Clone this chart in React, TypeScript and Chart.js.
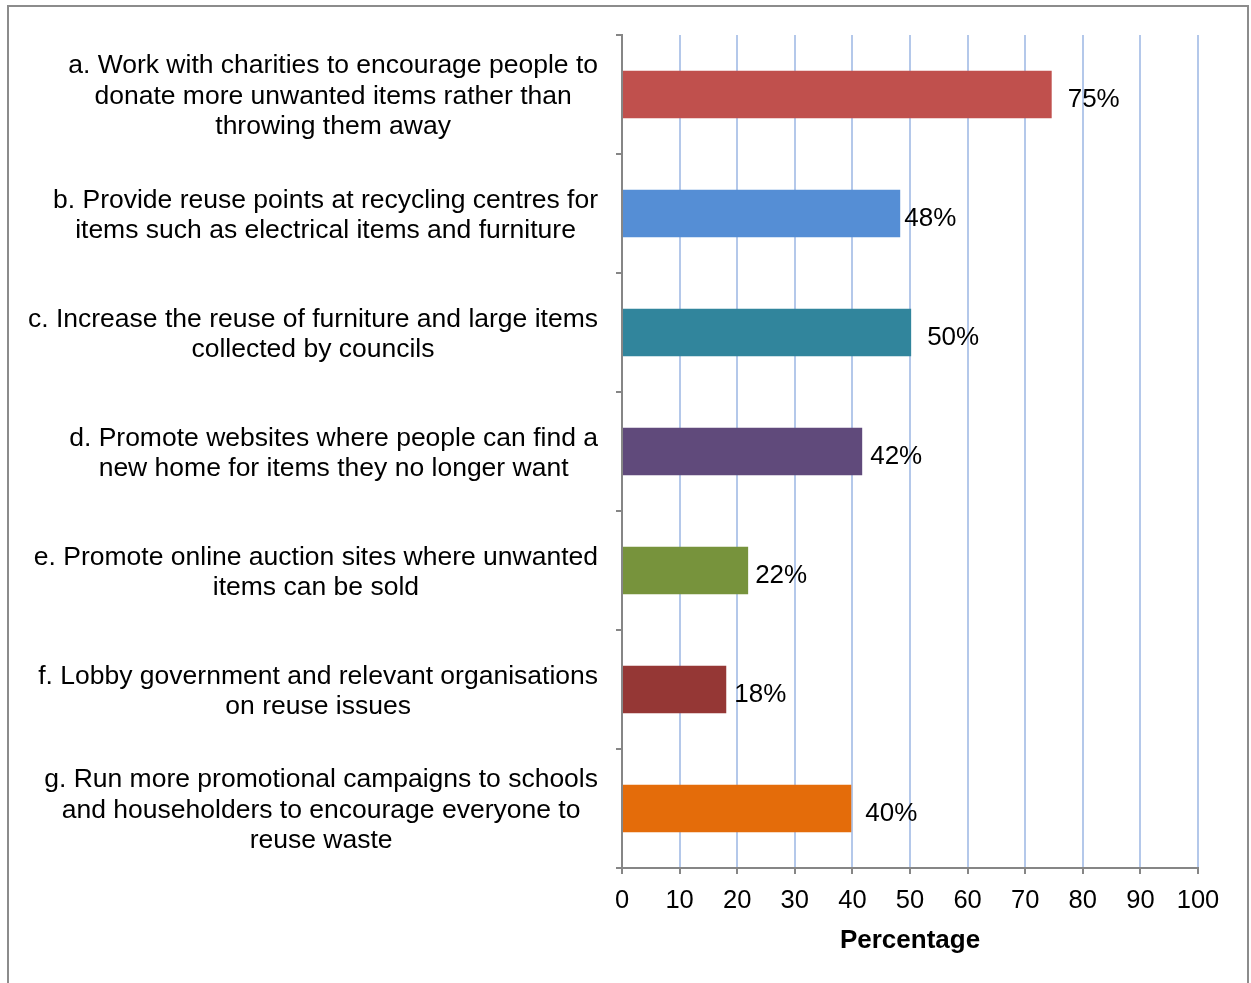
import React, { useEffect, useRef } from "react";
import { Chart, registerables } from "chart.js";

Chart.register(...registerables);

const categoryLines: string[][] = [
  ["a. Work with charities to encourage people to", "donate more unwanted items rather than", "throwing them away"],
  ["b. Provide reuse points at recycling centres for", "items such as electrical items and furniture"],
  ["c. Increase the reuse of furniture and large items", "collected by councils"],
  ["d. Promote websites where people can find a", "new home for items they no longer want"],
  ["e. Promote online auction sites where unwanted", "items can be sold"],
  ["f. Lobby government and relevant organisations", "on reuse issues"],
  ["g. Run more promotional campaigns to schools", "and householders to encourage everyone to", "reuse waste"],
];

const percentages: number[] = [74.6, 48.3, 50.2, 41.7, 21.9, 18.1, 39.8];

const barColors: string[] = ["#c0504d", "#558ed5", "#31859c", "#604a7b", "#77933c", "#953735", "#e46c0a"];

const labelNudge: number[] = [16, 4, 16, 8, 7, 8, 14];

const xTickMin = 0;
const xTickMax = 100;
const xTickStep = 10;
const xTitle = "Percentage";

const FONT = "'Liberation Sans', Arial, Helvetica, sans-serif";
const AXIS_GRAY = "#868686";
const GRID_BLUE = "#b4c8ea";

const frameBorder = {
  id: "frameBorder",
  beforeDraw(chart: any) {
    const { ctx } = chart;
    ctx.save();
    ctx.strokeStyle = "#8c8c8c";
    ctx.lineWidth = 2;
    ctx.beginPath();
    ctx.moveTo(8, 1000);
    ctx.lineTo(8, 6);
    ctx.lineTo(1248, 6);
    ctx.lineTo(1248, 1000);
    ctx.stroke();
    ctx.restore();
  },
};

const categoryLabels = {
  id: "categoryLabels",
  afterDraw(chart: any) {
    const { ctx } = chart;
    const yScale = chart.scales.y;
    const right = yScale.right - 24;
    const lh = 30.5;
    ctx.save();
    ctx.font = `26.5px ${FONT}`;
    ctx.fillStyle = "#000000";
    ctx.textBaseline = "middle";
    ctx.textAlign = "center";
    categoryLines.forEach((lines, i) => {
      const yc = yScale.getPixelForValue(i) + 2;
      const widest = Math.max(...lines.map((l) => ctx.measureText(l).width));
      const cx = right - widest / 2;
      const y0 = yc - ((lines.length - 1) * lh) / 2;
      lines.forEach((l, j) => ctx.fillText(l, cx, y0 + j * lh));
    });
    ctx.restore();
  },
};

const valueLabels = {
  id: "valueLabels",
  afterDatasetsDraw(chart: any) {
    const { ctx } = chart;
    const meta = chart.getDatasetMeta(0);
    ctx.save();
    ctx.font = `26px ${FONT}`;
    ctx.fillStyle = "#000000";
    ctx.textBaseline = "middle";
    ctx.textAlign = "left";
    meta.data.forEach((bar: any, i: number) => {
      ctx.fillText(`${Math.round(percentages[i])}%`, bar.x + labelNudge[i], bar.y + 5);
    });
    ctx.restore();
  },
};

export default function App() {
  const canvasRef = useRef<HTMLCanvasElement | null>(null);

  useEffect(() => {
    if (!canvasRef.current) return;
    const chart = new Chart(canvasRef.current, {
      type: "bar",
      data: {
        labels: categoryLines.map((l) => l.join(" ")),
        datasets: [
          {
            data: percentages,
            backgroundColor: barColors,
            borderWidth: 0,
            categoryPercentage: 0.8,
            barPercentage: 0.5,
          },
        ],
      },
      options: {
        indexAxis: "y",
        animation: false,
        responsive: true,
        maintainAspectRatio: false,
        layout: { padding: { top: 35, right: 53, left: 0, bottom: 0 } },
        plugins: {
          legend: { display: false },
          tooltip: { enabled: false },
        },
        scales: {
          x: {
            type: "linear",
            min: xTickMin,
            max: xTickMax,
            ticks: {
              stepSize: xTickStep,
              color: "#000000",
              font: { family: FONT, size: 25.5 },
              padding: 12,
              maxRotation: 0,
            },
            grid: {
              color: GRID_BLUE,
              lineWidth: 2,
              tickColor: AXIS_GRAY,
              tickLength: 6,
            },
            border: { color: AXIS_GRAY, width: 2 },
            title: {
              display: true,
              text: xTitle,
              color: "#000000",
              font: { family: FONT, size: 26, weight: "bold" },
              padding: { top: 0, bottom: 27 },
            },
            afterFit(scale: any) {
              scale.height = 115;
            },
          },
          y: {
            type: "category",
            ticks: { display: false },
            grid: {
              drawOnChartArea: false,
              drawTicks: true,
              tickLength: 6,
              tickColor: AXIS_GRAY,
              lineWidth: 2,
              offset: true,
            },
            border: { color: AXIS_GRAY, width: 2 },
            afterFit(scale: any) {
              scale.width = 622;
            },
          },
        },
      },
      plugins: [frameBorder, categoryLabels, valueLabels],
    } as any);
    return () => chart.destroy();
  }, []);

  return (
    <div style={{ position: "absolute", left: 0, top: 0, width: 1251, height: 983, background: "#ffffff" }}>
      <canvas ref={canvasRef} />
    </div>
  );
}
